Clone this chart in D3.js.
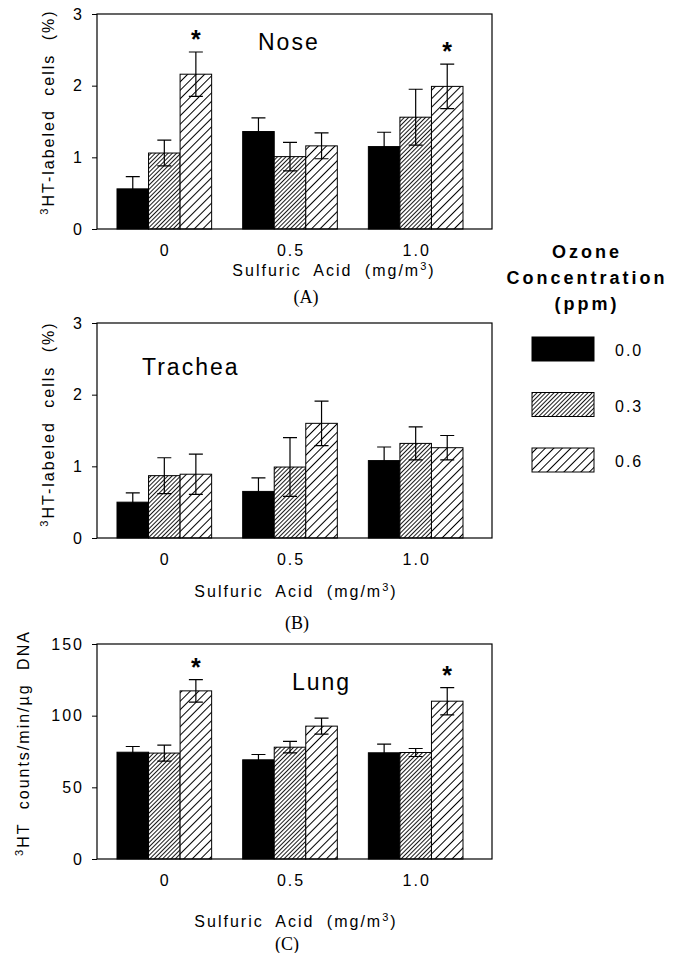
<!DOCTYPE html>
<html>
<head>
<meta charset="utf-8">
<script src="https://cdn.jsdelivr.net/npm/d3@7"></script>
<style>
  body { margin: 0; background: #fff; }
  svg { display: block; }
  text { font-family: Arial, "Liberation Sans", sans-serif; fill: #000; }
</style>
</head>
<body>
<script>
const acidLevels = ['0', '0.5', '1.0'];
const ozoneLevels = ['0.0', '0.3', '0.6'];

// values per acid level, one entry per ozone level
const noseMean = [[0.56, 1.06, 2.16], [1.36, 1.01, 1.16], [1.15, 1.56, 1.99]];
const noseErr = [[0.17, 0.18, 0.31], [0.19, 0.20, 0.18], [0.20, 0.39, 0.31]];
const tracheaMean = [[0.50, 0.87, 0.89], [0.65, 0.99, 1.60], [1.08, 1.32, 1.26]];
const tracheaErr = [[0.13, 0.25, 0.28], [0.19, 0.41, 0.31], [0.19, 0.23, 0.17]];
const lungMean = [[74.5, 73.9, 117.3], [69.2, 78.0, 92.7], [74.1, 74.3, 110.1]];
const lungErr = [[4.0, 5.6, 7.8], [3.7, 4.0, 5.6], [6.0, 2.8, 9.5]];

// [acid index, ozone index] of significant bars
const noseStars = [[0, 2], [2, 2]];
const lungStars = [[0, 2], [2, 2]];

const percentTicks = [0, 1, 2, 3];
const lungTicks = [0, 50, 100, 150];

const width = 684, height = 953;
const svg = d3.select('body').append('svg')
  .attr('width', width)
  .attr('height', height);

const defs = svg.append('defs');
function hatch(id, gap, sw) {
  const p = defs.append('pattern')
    .attr('id', id)
    .attr('patternUnits', 'userSpaceOnUse')
    .attr('width', gap)
    .attr('height', 10)
    .attr('patternTransform', 'rotate(45)');
  p.append('rect').attr('width', gap).attr('height', 10).attr('fill', '#fff');
  p.append('line')
    .attr('x1', 0.5).attr('x2', 0.5)
    .attr('y1', 0).attr('y2', 10)
    .attr('stroke', '#000')
    .attr('stroke-width', sw);
}
hatch('h03', 3, 0.9);
hatch('h06', 6, 1);

const fills = ['#000', 'url(#h03)', 'url(#h06)'];
const left = 97, right = 492;

function drawPanel({ top, bottom, mean, err, max, ticks, stars, title, titleX, titleY,
                    yTitle, yTitleX, yTitleY, xTitleX, xTitleY, tag, tagX, tagY }) {
  const g = svg.append('g');
  const x = d3.scaleBand().domain(acidLevels).range([117, 463]).paddingInner(0.247);
  const xo = d3.scaleBand().domain(ozoneLevels).range([0, x.bandwidth()]);
  const y = d3.scaleLinear().domain([0, max]).range([bottom, top]);

  // bars
  acidLevels.forEach((a, i) => {
    const grp = g.append('g').attr('transform', `translate(${x(a)},0)`);
    ozoneLevels.forEach((o, j) => {
      grp.append('rect')
        .attr('x', xo(o))
        .attr('y', y(mean[i][j]))
        .attr('width', xo.bandwidth())
        .attr('height', bottom - y(mean[i][j]))
        .attr('fill', fills[j])
        .attr('stroke', '#000')
        .attr('stroke-width', 1);
      const cx = xo(o) + xo.bandwidth() / 2;
      const hi = y(mean[i][j] + err[i][j]), lo = y(mean[i][j] - err[i][j]);
      grp.append('path')
        .attr('d', `M${cx},${lo}V${hi}M${cx - 7},${hi}H${cx + 7}M${cx - 7},${lo}H${cx + 7}`)
        .attr('stroke', '#000')
        .attr('stroke-width', 1.2)
        .attr('fill', 'none');
    });
  });

  // significance stars
  stars.forEach(([i, j]) => {
    const cx = x(acidLevels[i]) + xo(ozoneLevels[j]) + xo.bandwidth() / 2;
    g.append('text')
      .attr('x', cx)
      .attr('y', y(mean[i][j] + err[i][j]) - 4)
      .attr('text-anchor', 'middle')
      .style('font-size', '25px')
      .style('font-weight', 'bold')
      .text('*');
  });

  // frame
  g.append('rect')
    .attr('x', left).attr('y', top)
    .attr('width', right - left).attr('height', bottom - top)
    .attr('fill', 'none').attr('stroke', '#000').attr('stroke-width', 1.2);

  // y axis
  const axis = g.append('g')
    .attr('transform', `translate(${left},0)`)
    .call(d3.axisLeft(y).tickValues(ticks).tickFormat(d3.format('d')).tickSize(5).tickPadding(8));
  axis.select('.domain').remove();
  axis.selectAll('text')
    .style('font-size', '16px')
    .style('letter-spacing', '2px')
    .style('font-family', 'Arial, "Liberation Sans", sans-serif');

  // x tick labels
  acidLevels.forEach(a => {
    g.append('text')
      .attr('x', x(a) + x.bandwidth() / 2 + 1)
      .attr('y', bottom + 27)
      .attr('text-anchor', 'middle')
      .style('font-size', '16px')
      .style('letter-spacing', '2px')
      .text(a);
  });

  g.append('text')
    .attr('x', titleX).attr('y', titleY)
    .style('font-size', '23px')
    .style('letter-spacing', '2px')
    .text(title);

  const yt = g.append('text')
    .attr('transform', `translate(${yTitleX},${yTitleY}) rotate(-90)`)
    .attr('text-anchor', 'middle')
    .style('font-size', '16px')
    .style('letter-spacing', '2px')
    .style('word-spacing', '7px');
  yt.append('tspan').attr('baseline-shift', 'super').style('font-size', '11px').text('3');
  yt.append('tspan').text(yTitle);

  const xt = g.append('text')
    .attr('x', xTitleX).attr('y', xTitleY)
    .attr('text-anchor', 'middle')
    .style('font-size', '16px')
    .style('letter-spacing', '2px')
    .style('word-spacing', '6px');
  xt.append('tspan').text('Sulfuric Acid (mg/m');
  xt.append('tspan').attr('baseline-shift', 'super').style('font-size', '11px').text('3');
  xt.append('tspan').text(')');

  g.append('text')
    .attr('x', tagX).attr('y', tagY)
    .attr('text-anchor', 'middle')
    .style('font-family', '"Times New Roman", "Liberation Serif", serif')
    .style('font-size', '18px')
    .text(tag);
}

drawPanel({ top: 14, bottom: 229, mean: noseMean, err: noseErr, max: 3, ticks: percentTicks,
  stars: noseStars, title: 'Nose', titleX: 258, titleY: 50,
  yTitle: 'HT-labeled cells (%)', yTitleX: 54, yTitleY: 112, xTitleX: 334, xTitleY: 276,
  tag: '(A)', tagX: 306, tagY: 303 });

drawPanel({ top: 323, bottom: 538, mean: tracheaMean, err: tracheaErr, max: 3, ticks: percentTicks,
  stars: [], title: 'Trachea', titleX: 142, titleY: 375,
  yTitle: 'HT-labeled cells (%)', yTitleX: 54, yTitleY: 424, xTitleX: 296, xTitleY: 597,
  tag: '(B)', tagX: 297, tagY: 629 });

drawPanel({ top: 644, bottom: 859, mean: lungMean, err: lungErr, max: 150, ticks: lungTicks,
  stars: lungStars, title: 'Lung', titleX: 292, titleY: 690,
  yTitle: 'HT counts/min/µg DNA', yTitleX: 29, yTitleY: 743, xTitleX: 296, xTitleY: 927,
  tag: '(C)', tagX: 287, tagY: 950 });

// legend
const legend = svg.append('g');
['Ozone', 'Concentration', '(ppm)'].forEach((t, i) => {
  legend.append('text')
    .attr('x', 587).attr('y', 258 + i * 26)
    .attr('text-anchor', 'middle')
    .style('font-size', '18px')
    .style('font-weight', 'bold')
    .style('letter-spacing', '3px')
    .text(t);
});
const ly = d3.scalePoint().domain(ozoneLevels).range([337, 448]);
ozoneLevels.forEach((o, j) => {
  legend.append('rect')
    .attr('x', 532).attr('y', ly(o))
    .attr('width', 62).attr('height', 24)
    .attr('fill', fills[j])
    .attr('stroke', '#000').attr('stroke-width', 1);
  legend.append('text')
    .attr('x', 615).attr('y', ly(o) + 19)
    .style('font-size', '16px')
    .style('letter-spacing', '2px')
    .text(o);
});
</script>
</body>
</html>
